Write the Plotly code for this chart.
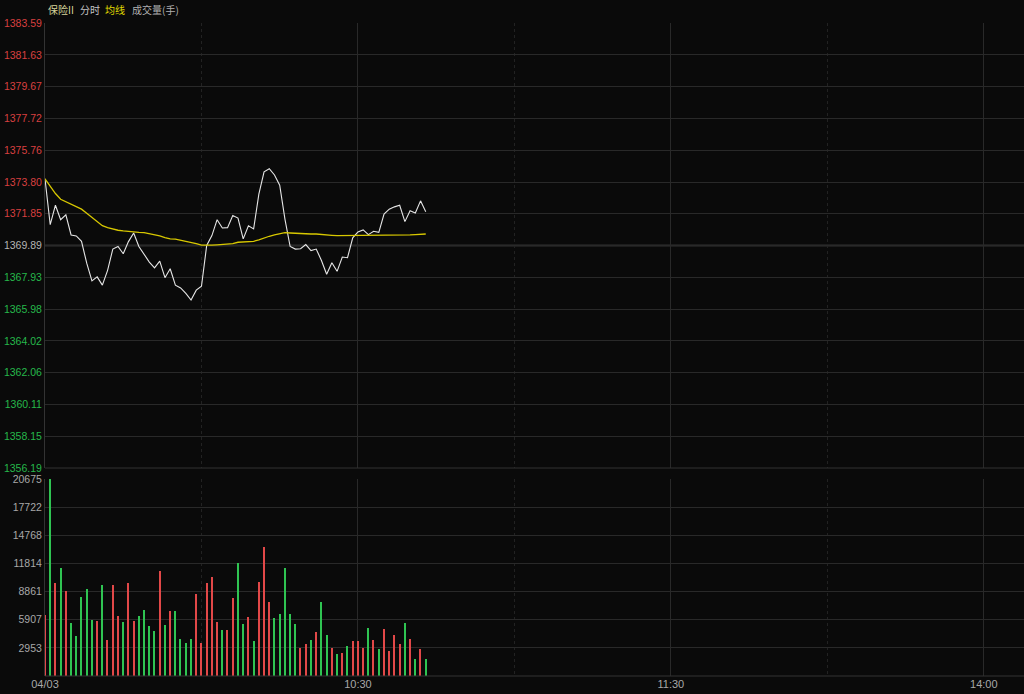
import plotly.graph_objects as go

# ---------------- data ----------------
minutes = list(range(74))  # minutes since 09:30
price = [1374.00, 1371.17, 1372.37, 1371.48, 1371.78, 1370.54, 1370.48, 1370.15, 1368.80, 1367.71,
         1367.96, 1367.45, 1368.36, 1369.67, 1369.83, 1369.38, 1370.13, 1370.66, 1369.83, 1369.38,
         1368.87, 1368.51, 1368.93, 1367.91, 1368.46, 1367.45, 1367.28, 1366.94, 1366.53, 1367.14,
         1367.38, 1369.89, 1370.50, 1371.48, 1370.97, 1370.99, 1371.74, 1371.58, 1370.30, 1371.11,
         1370.91, 1373.05, 1374.43, 1374.62, 1374.23, 1373.60, 1371.52, 1369.83, 1369.67, 1369.69,
         1369.95, 1369.58, 1369.67, 1368.97, 1368.12, 1368.83, 1368.30, 1369.18, 1369.14, 1370.36,
         1370.73, 1370.85, 1370.56, 1370.77, 1370.70, 1371.82, 1372.13, 1372.27, 1372.37, 1371.36,
         1372.03, 1371.89, 1372.64, 1371.97]
avg_price = [1374.00, 1373.56, 1373.09, 1372.74, 1372.58, 1372.42, 1372.31, 1372.13, 1371.87, 1371.62,
             1371.36, 1371.11, 1370.99, 1370.89, 1370.83, 1370.79, 1370.75, 1370.73, 1370.70, 1370.68,
             1370.62, 1370.56, 1370.48, 1370.38, 1370.30, 1370.28, 1370.22, 1370.15, 1370.09, 1370.01,
             1369.91, 1369.89, 1369.91, 1369.93, 1369.95, 1369.97, 1370.01, 1370.09, 1370.11, 1370.13,
             1370.15, 1370.24, 1370.36, 1370.46, 1370.54, 1370.60, 1370.68, 1370.66, 1370.64, 1370.60,
             1370.60, 1370.60, 1370.60, 1370.56, 1370.54, 1370.52, 1370.50, 1370.50, 1370.50, 1370.50,
             1370.50, 1370.50, 1370.50, 1370.50, 1370.50, 1370.50, 1370.50, 1370.50, 1370.52, 1370.54,
             1370.54, 1370.56, 1370.58, 1370.60]
volume = [6359, 20675, 9765, 11363, 8931, 5560, 4205, 8340, 9174, 5907,
          5803, 9521, 3823, 9521, 6325, 5630, 9765, 5803, 6325, 6950,
          5212, 4761, 11016, 5386, 6846, 6811, 3927, 3510, 3927, 8583,
          3510, 9765, 10425, 5699, 4830, 4830, 8236, 11850, 5490, 6220,
          3684, 9834, 13518, 7784, 6046, 6533, 11363, 6533, 5456, 2989,
          3336, 3753, 4657, 7749, 4274, 2989, 2259, 2363, 3197, 3684,
          3684, 2919, 5039, 3823, 2850, 4935, 2676, 4274, 3371, 5560,
          3927, 1738, 2850, 1738]
direction = ["u", "d", "u", "d", "u", "d", "d", "d", "d", "d",
             "u", "d", "u", "u", "u", "d", "u", "u", "d", "d",
             "d", "d", "u", "d", "u", "d", "d", "d", "d", "u",
             "u", "u", "u", "u", "d", "u", "u", "d", "d", "u",
             "d", "u", "u", "u", "d", "d", "d", "d", "d", "u",
             "u", "d", "u", "d", "d", "u", "d", "u", "d", "u",
             "u", "u", "d", "u", "d", "u", "u", "u", "u", "d",
             "u", "d", "u", "d"]
prev_close = 1369.89
price_ticks = [1356.19, 1358.15, 1360.11, 1362.06, 1364.02, 1365.98, 1367.93, 1369.89,
               1371.85, 1373.80, 1375.76, 1377.72, 1379.67, 1381.63, 1383.59]
vol_ticks = [2953, 5907, 8861, 11814, 14768, 17722, 20675]
time_tick_vals = [0, 60, 120, 180]
time_tick_text = ["04/03", "10:30", "11:30", "14:00"]
half_hour_vals = [30, 90, 150]
legend_items = ["保险II", "分时", "均线", "成交量(手)"]

# ---------------- style ----------------
BG = "#0a0a0a"
GRID = "#292929"
RED = "#e24848"
GREEN = "#2fc452"
GRAY_TXT = "#a8a8a8"
FONT = "Liberation Sans, Arial, sans-serif"

def tick_label(v):
    if v > prev_close + 1e-9:
        c = "#d94040"
    elif v < prev_close - 1e-9:
        c = "#26b84a"
    else:
        c = "#b4b4b4"
    return f'<span style="color:{c}">{v:.2f}</span>'

bar_colors = [RED if d == "u" else GREEN for d in direction]

fig = go.Figure()
fig.add_trace(go.Scatter(x=minutes, y=price, mode="lines",
                         line=dict(color="#e6e6e6", width=1.1), xaxis="x", yaxis="y",
                         hoverinfo="skip"))
fig.add_trace(go.Scatter(x=minutes, y=avg_price, mode="lines",
                         line=dict(color="#d8c800", width=1.3), xaxis="x", yaxis="y",
                         hoverinfo="skip"))
fig.add_trace(go.Bar(x=minutes, y=volume, marker=dict(color=bar_colors, line=dict(width=0)),
                     width=0.24, xaxis="x2", yaxis="y2", hoverinfo="skip"))

xr = [0, 187.7]
common_x = dict(range=xr, showgrid=True, gridcolor=GRID, gridwidth=1, zeroline=False,
                tickvals=time_tick_vals, showline=False, ticks="", automargin=False,
                minor=dict(tickvals=half_hour_vals, showgrid=True, gridcolor="#222222",
                           griddash="dot", gridwidth=1, ticks=""))

fig.update_layout(
    width=1024, height=694,
    paper_bgcolor=BG, plot_bgcolor=BG,
    margin=dict(l=45, r=0, t=23, b=18),
    showlegend=False,
    bargap=0,
    xaxis=dict(**common_x, anchor="y", showticklabels=False, domain=[0, 1]),
    xaxis2=dict(**common_x, anchor="y2", showticklabels=True, domain=[0, 1],
                ticktext=time_tick_text, tickfont=dict(family=FONT, size=11, color=GRAY_TXT)),
    yaxis=dict(domain=[0.3185, 1], range=[price_ticks[0], price_ticks[-1]],
               tickvals=price_ticks, ticktext=[tick_label(v) for v in price_ticks],
               tickfont=dict(family=FONT, size=10.5), showgrid=True, gridcolor=GRID,
               zeroline=False, ticks="", showline=True, linecolor="#333333", linewidth=1,
               automargin=False),
    yaxis2=dict(domain=[0, 0.3017], range=[0, 20675],
                tickvals=vol_ticks, ticktext=[str(v) for v in vol_ticks],
                tickfont=dict(family=FONT, size=10.5, color=GRAY_TXT), showgrid=True,
                gridcolor=GRID, zeroline=False, ticks="", showline=True,
                linecolor="#333333", linewidth=1, automargin=False),
)

# previous close reference line
fig.add_shape(type="line", xref="paper", x0=0, x1=1, yref="y", y0=prev_close, y1=prev_close,
              line=dict(color="#5a5a5a", width=1.6), layer="below")
# border lines
fig.add_shape(type="line", xref="paper", x0=0, x1=1, yref="paper", y0=0, y1=0,
              line=dict(color="#333333", width=1))
fig.add_shape(type="line", xref="paper", x0=0, x1=1, yref="paper", y0=0.3185, y1=0.3185,
              line=dict(color="#333333", width=1))

# header legend
legend_colors = ["#d6d49a", "#c4c4c4", "#e0dc00", "#b0b0b0"]
legend_px = [46, 78, 103, 130]
for txt, col, px in zip(legend_items, legend_colors, legend_px):
    fig.add_annotation(text=txt, xref="paper", yref="paper",
                       x=(px - 45) / 979, y=1, yshift=14, xanchor="left", yanchor="middle",
                       showarrow=False,
                       font=dict(family="Noto Sans CJK SC, sans-serif", size=10, color=col))

fig.write_html("out.html", config={"displayModeBar": False},
               post_script="document.body.style.margin='0';document.body.style.background='#0a0a0a';")
